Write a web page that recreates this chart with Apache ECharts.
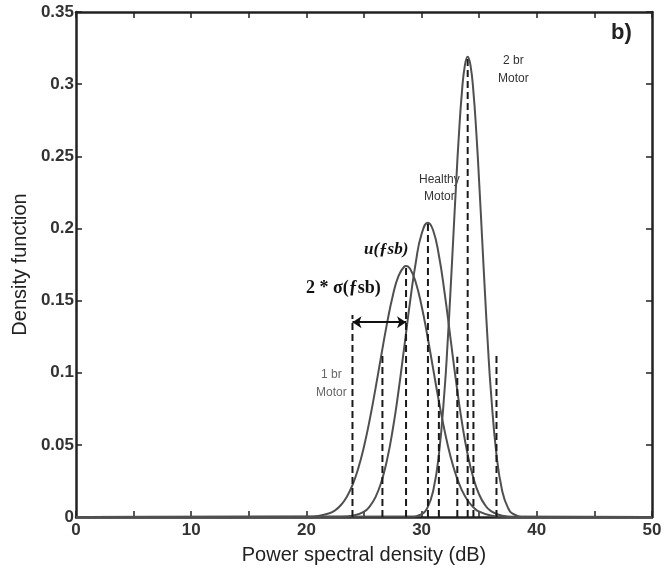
<!DOCTYPE html>
<html><head><meta charset="utf-8">
<script src="https://cdn.jsdelivr.net/npm/echarts@6/dist/echarts.min.js"></script>
<style>html,body{margin:0;padding:0;background:#fff}#c{width:667px;height:571px}</style>
</head><body><div id="c"></div>
<script>
// 1 br motor curve
const x1br = [0, 20, 21, 22, 22.5, 23, 23.5, 24, 24.5, 25, 25.5, 26, 26.5, 27, 27.5, 28, 28.5, 28.65, 29, 29.5, 30, 30.5, 31, 31.5, 32, 32.5, 33, 33.5, 34, 34.5, 35, 36, 37, 38, 50];
const y1br = [0, 0.0001, 0.0007, 0.0026, 0.0047, 0.0083, 0.0139, 0.0221, 0.0337, 0.0489, 0.0676, 0.0891, 0.1120, 0.1342, 0.1534, 0.1671, 0.1736, 0.1740, 0.1720, 0.1624, 0.1462, 0.1256, 0.1028, 0.0802, 0.0597, 0.0423, 0.0286, 0.0185, 0.0114, 0.0067, 0.0037, 0.0010, 0.0002, 0, 0];
// Healthy motor curve
const xHealthy = [0, 23, 24, 25, 25.5, 26, 26.5, 27, 27.5, 28, 28.5, 29, 29.5, 30, 30.55, 31, 31.5, 32, 32.5, 33, 33.5, 34, 34.5, 35, 35.5, 36, 37, 38, 50];
const yHealthy = [0, 0.0001, 0.0008, 0.0037, 0.0074, 0.0138, 0.0241, 0.0396, 0.0608, 0.0875, 0.1181, 0.1492, 0.1767, 0.1961, 0.2040, 0.1987, 0.1814, 0.1552, 0.1244, 0.0934, 0.0657, 0.0433, 0.0268, 0.0155, 0.0084, 0.0043, 0.0009, 0.0002, 0];
// 2 br motor curve
const x2br = [0, 29, 30, 30.5, 31, 31.5, 32, 32.25, 32.5, 32.75, 33, 33.25, 33.5, 33.75, 34, 34.25, 34.5, 34.75, 35, 35.25, 35.5, 35.75, 36, 36.5, 37, 37.5, 38, 39, 50];
const y2br = [0, 0.0003, 0.0019, 0.0063, 0.0179, 0.0432, 0.0887, 0.1197, 0.1553, 0.1935, 0.2316, 0.2665, 0.2945, 0.3127, 0.3190, 0.3127, 0.2945, 0.2665, 0.2316, 0.1935, 0.1553, 0.1197, 0.0887, 0.0432, 0.0179, 0.0063, 0.0019, 0.0001, 0];
// vertical dashed markers (means and mean ± 2σ)
const markerX = [24.0, 26.6, 28.65, 30.55, 31.5, 33.1, 34.0, 34.5, 36.5];
const markerTop = [0.14, 0.114, 0.174, 0.204, 0.112, 0.111, 0.319, 0.112, 0.114];
// 2σ arrow
const arrowX = [24.0, 28.65];
const arrowY = 0.135;
const xTicks = [0, 10, 20, 30, 40, 50];
const yTicks = [0, 0.05, 0.1, 0.15, 0.2, 0.25, 0.3, 0.35];

const chart = echarts.init(document.getElementById('c'));
const font = '"Liberation Sans", Arial, sans-serif';
const curveStyle = {color: '#505050', width: 2};
function pairs(xs, ys){ return xs.map((x,i)=>[x, ys[i]]); }
const series = [
  {type:'line', data: pairs(x1br,y1br), smooth:true, showSymbol:false, lineStyle: curveStyle, z:3},
  {type:'line', data: pairs(xHealthy,yHealthy), smooth:true, showSymbol:false, lineStyle: curveStyle, z:3},
  {type:'line', data: pairs(x2br,y2br), smooth:true, showSymbol:false, lineStyle: curveStyle, z:3}
];
markerX.forEach((x,i)=>{
  series.push({type:'line', data:[[x,0],[x,markerTop[i]]], showSymbol:false,
    lineStyle:{color:'#1a1a1a', width:2, type:[7,4]}, z:4});
});
series.push({type:'lines', coordinateSystem:'cartesian2d',
  data:[{coords:[[arrowX[0],arrowY],[arrowX[1],arrowY]]}],
  symbol:['arrow','arrow'], symbolSize:9,
  lineStyle:{color:'#111', width:2.2, opacity:1}, z:5});
const tickVals = new Set(xTicks);
const axisLine = {show:true, onZero:false, lineStyle:{color:'#222', width:2.5}};
const tick = {show:true, inside:true, length:6, lineStyle:{color:'#222', width:1.5}};
chart.setOption({
  animation:false,
  grid:{left:76, right:15, top:12, bottom:54},
  xAxis:[{type:'value', min:0, max:50, interval:5, position:'bottom',
    axisLine: axisLine, axisTick: tick,
    splitLine:{show:false},
    axisLabel:{color:'#333', fontFamily:font, fontWeight:'bold', fontSize:17, margin:5,
      formatter:(v)=> tickVals.has(v) ? String(v) : ''},
    name:'Power spectral density (dB)', nameLocation:'middle', nameGap:28,
    nameTextStyle:{color:'#222', fontFamily:font, fontSize:20}},
    {type:'value', min:0, max:50, interval:5, position:'top',
    axisLine: axisLine, axisTick: tick,
    axisLabel:{show:false}, splitLine:{show:false}}],
  yAxis:[{type:'value', min:0, max:0.35, interval:0.05, position:'left',
    axisLine: axisLine, axisTick: tick,
    splitLine:{show:false},
    axisLabel:{color:'#333', fontFamily:font, fontWeight:'bold', fontSize:17, margin:2,
      formatter:(v)=> String(parseFloat(v.toFixed(2)))},
    name:'Density function', nameLocation:'middle', nameGap:44, nameRotate:90,
    nameTextStyle:{color:'#222', fontFamily:font, fontSize:20}},
    {type:'value', min:0, max:0.35, interval:0.05, position:'right',
    axisLine: axisLine, axisTick: tick,
    axisLabel:{show:false}, splitLine:{show:false}}],
  series: series,
  graphic:[
    {type:'text', left:498, top:52, style:{text:'2 br\nMotor', textAlign:'center', fill:'#333', font:'12px '+font, lineHeight:18}},
    {type:'text', left:419, top:171, style:{text:'Healthy\nMotor', textAlign:'center', fill:'#333', font:'12px '+font, lineHeight:17}},
    {type:'text', left:316, top:366, style:{text:'1 br\nMotor', textAlign:'center', fill:'#666', font:'12px '+font, lineHeight:18}},
    {type:'text', left:364, top:241, style:{text:'u(ƒsb)', fill:'#111', font:'italic bold 17px "Liberation Serif", serif'}},
    {type:'text', left:306, top:279, style:{text:'2 * σ(ƒsb)', fill:'#111', font:'bold 18px "Liberation Serif", serif'}},
    {type:'text', left:611, top:22, style:{text:'b)', fill:'#222', font:'bold 22px '+font}}
  ]
});
</script></body></html>
